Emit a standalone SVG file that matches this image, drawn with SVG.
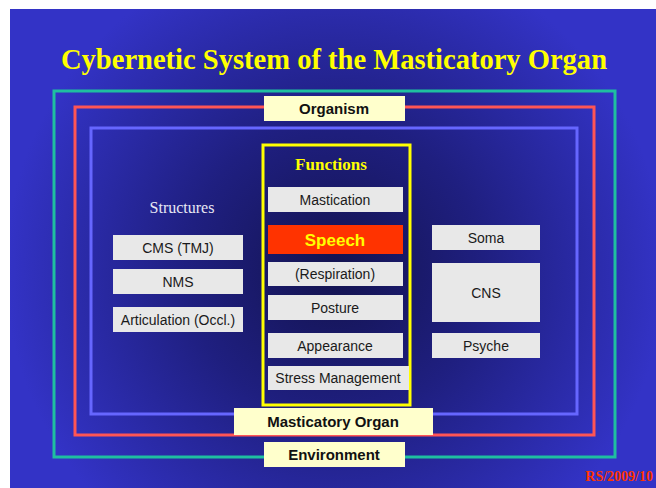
<svg xmlns="http://www.w3.org/2000/svg" width="656" height="488" viewBox="0 0 656 488">
<defs>
<radialGradient id="bg" gradientUnits="userSpaceOnUse" cx="335" cy="270" r="330">
<stop offset="0" stop-color="#13134f"/>
<stop offset="0.45" stop-color="#1f1f80"/>
<stop offset="1" stop-color="#3333c6"/>
</radialGradient>
<style>
.box{fill:#e8e8e8}
.bt{font-family:"Liberation Sans",Arial,sans-serif;font-size:14px;fill:#1a1a1a;text-anchor:middle}
.lab{fill:#ffffcc}
.lt{font-family:"Liberation Sans",Arial,sans-serif;font-size:15px;font-weight:bold;fill:#111;text-anchor:middle}
.frame{fill:none;stroke-width:3}
</style>
</defs>
<rect x="0" y="0" width="656" height="488" fill="#ffffff"/>
<rect x="10" y="9" width="646" height="479" fill="url(#bg)"/>
<text x="61" y="69" font-family="'Liberation Serif','Times New Roman',serif" font-size="30" font-weight="bold" fill="#ffff00" textLength="546" lengthAdjust="spacingAndGlyphs">Cybernetic System of the Masticatory Organ</text>

<g id="environment">
<rect class="frame" x="54" y="91" width="561" height="366" stroke="#1fbfa0"/>
</g>
<g id="organism">
<rect class="frame" x="75" y="107" width="519" height="328" stroke="#ff5555"/>
</g>
<g id="masticatory-frame">
<rect class="frame" x="91" y="128" width="486" height="286" stroke="#6666ff"/>
</g>
<g id="functions">
<rect class="frame" x="263" y="145" width="147" height="260" stroke="#ffff00"/>
<text x="331" y="170" font-family="'Liberation Serif','Times New Roman',serif" font-size="17" font-weight="bold" fill="#ffff00" text-anchor="middle">Functions</text>
</g>
<g id="structures">
<text x="182" y="213" font-family="'Liberation Serif','Times New Roman',serif" font-size="16" fill="#e8e8f4" text-anchor="middle">Structures</text>
</g>

<g id="organism-label"><rect class="lab" x="264" y="96" width="141" height="25"/><text class="lt" x="334" y="114">Organism</text></g>
<g id="masticatory-label"><rect class="lab" x="234" y="408" width="199" height="27"/><text class="lt" x="333" y="427">Masticatory Organ</text></g>
<g id="environment-label"><rect class="lab" x="264" y="442" width="141" height="25"/><text class="lt" x="334" y="460">Environment</text></g>

<g id="cms"><rect class="box" x="113" y="235" width="130" height="25"/><text class="bt" x="178" y="253">CMS (TMJ)</text></g>
<g id="nms"><rect class="box" x="113" y="269" width="130" height="25"/><text class="bt" x="178" y="287">NMS</text></g>
<g id="articulation"><rect class="box" x="113" y="307" width="130" height="25"/><text class="bt" x="178" y="325">Articulation (Occl.)</text></g>

<g id="mastication"><rect class="box" x="268" y="187" width="135" height="25"/><text class="bt" x="335" y="205">Mastication</text></g>
<g id="speech"><rect x="268" y="225" width="135" height="29" fill="#ff3300"/><text x="335" y="246" font-family="'Liberation Sans',Arial,sans-serif" font-size="17" font-weight="bold" fill="#ffff00" text-anchor="middle">Speech</text></g>
<g id="respiration"><rect class="box" x="268" y="262" width="135" height="24"/><text class="bt" x="335" y="279">(Respiration)</text></g>
<g id="posture"><rect class="box" x="268" y="295" width="135" height="25"/><text class="bt" x="335" y="313">Posture</text></g>
<g id="appearance"><rect class="box" x="268" y="333" width="135" height="25"/><text class="bt" x="335" y="351">Appearance</text></g>
<g id="stress"><rect class="box" x="268" y="366" width="141" height="24"/><text class="bt" x="338" y="383">Stress Management</text></g>

<g id="soma"><rect class="box" x="432" y="225" width="108" height="25"/><text class="bt" x="486" y="243">Soma</text></g>
<g id="cns"><rect class="box" x="432" y="263" width="108" height="59"/><text class="bt" x="486" y="298">CNS</text></g>
<g id="psyche"><rect class="box" x="432" y="333" width="108" height="25"/><text class="bt" x="486" y="351">Psyche</text></g>

<g id="connectors"></g>
<text x="653" y="481" font-family="'Liberation Serif','Times New Roman',serif" font-size="14" font-weight="bold" fill="#ff3300" text-anchor="end">RS/2009/10</text>
</svg>
